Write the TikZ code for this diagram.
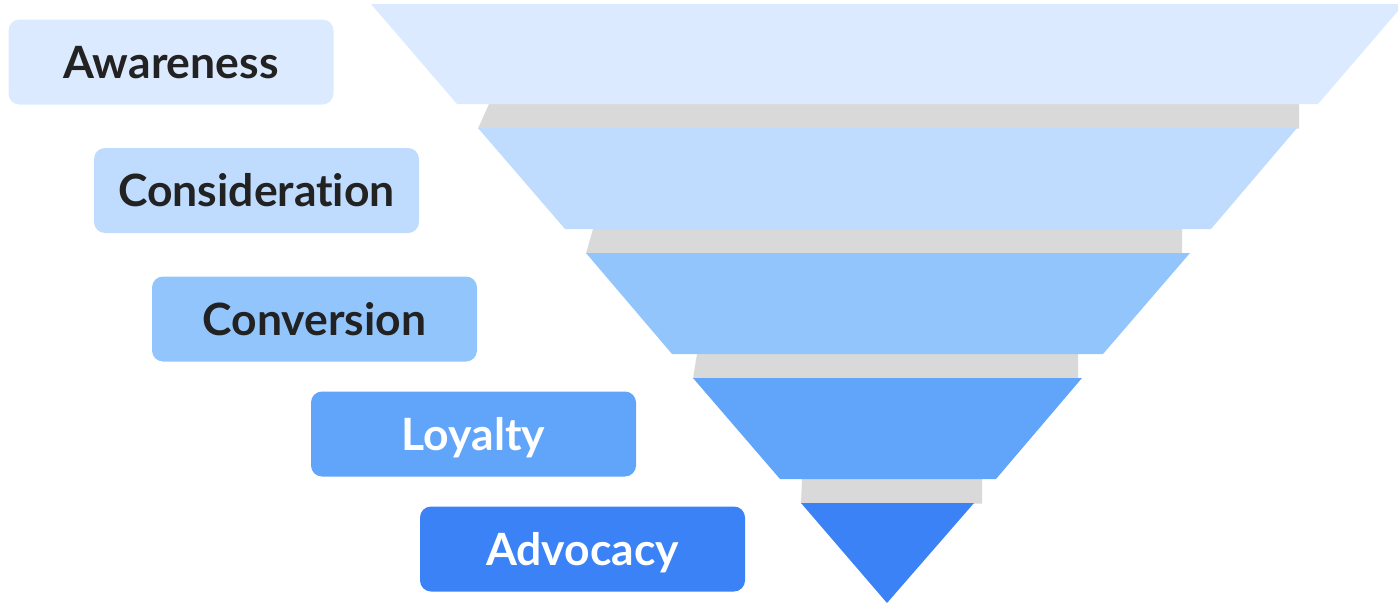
\documentclass[tikz,border=0pt]{standalone}
\usepackage{fontspec}
\setmainfont{Lato}[Ligatures=NoCommon]
\definecolor{cA}{HTML}{DBEAFE}
\definecolor{cB}{HTML}{BFDBFE}
\definecolor{cC}{HTML}{93C5FD}
\definecolor{cD}{HTML}{60A5FA}
\definecolor{cE}{HTML}{3B82F6}
\definecolor{band}{HTML}{D9D9D9}
\definecolor{ink}{HTML}{222222}
\tikzset{
  lbl/.style={rounded corners=11pt, minimum width=325pt, minimum height=85pt, inner sep=0pt,
    text height=32pt, text depth=0pt,
    font=\fontsize{44.5}{50}\selectfont\bfseries},
  darklbl/.style={lbl, text=ink},
  lightlbl/.style={lbl, text=white},
}
\begin{document}
\begin{tikzpicture}[x=1pt,y=-1pt]
\useasboundingbox (0,0) rectangle (1398,605);
\begin{scope}
\clip (0,0) rectangle (1398,605);
% gray bands
\fill[band] (489,104) -- (1299,104) -- (1299,128.5) -- (478,128.5) -- cycle;
\fill[band] (593,229) -- (1182,229) -- (1182,253.5) -- (586,253.5) -- cycle;
\fill[band] (697,354) -- (1078,354) -- (1078,378.5) -- (693,378.5) -- cycle;
\fill[band] (802,479) -- (982,479) -- (982,503.5) -- (801,503.5) -- cycle;
% funnel layers
\fill[cA] (371,4) -- (1404,4) -- (1318,104) -- (457,104) -- cycle;
\fill[cB] (478,128) -- (1297,128) -- (1211,229) -- (565,229) -- cycle;
\fill[cC] (586,253) -- (1190,253) -- (1103,354) -- (672,354) -- cycle;
\fill[cD] (693,378) -- (1082,378) -- (996,479) -- (780,479) -- cycle;
\fill[cE] (801,503) -- (974,503) -- (887,603) -- cycle;
\end{scope}
% labels
\node[darklbl, fill=cA] (aw) at (171,62) {Awareness};
\node[darklbl, fill=cB] (co) at (256.5,190.5) {Consideration};
\node[darklbl, fill=cC] (cv) at (314.5,319) {Conversion};
\node[lightlbl, fill=cD] (lo) at (473.5,434) {Loyalty};
\node[lightlbl, fill=cE] (ad) at (582.5,549) {Advocacy};
\end{tikzpicture}
\end{document}
